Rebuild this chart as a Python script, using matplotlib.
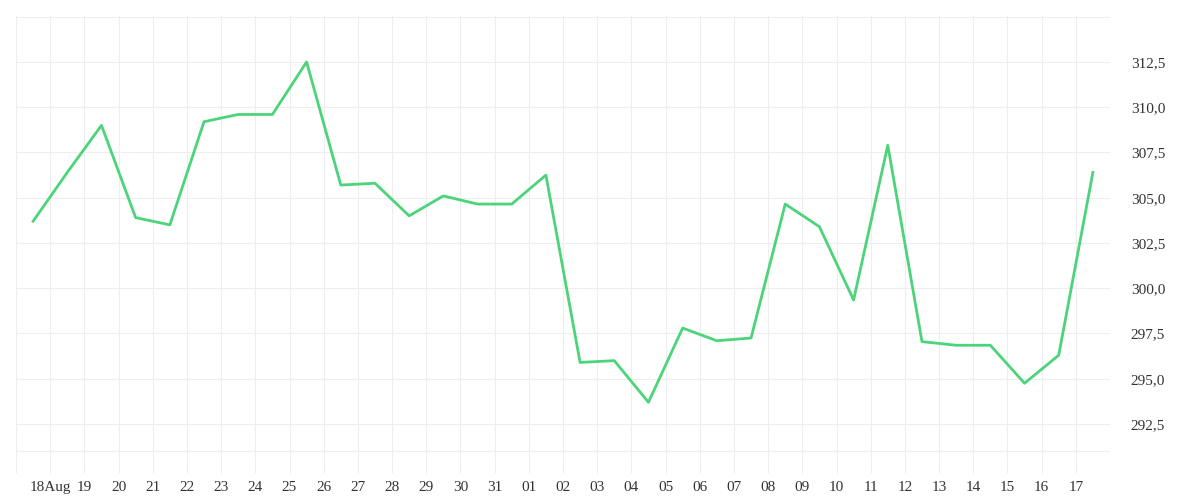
import matplotlib.pyplot as plt

days = ["18Aug", "19", "20", "21", "22", "23", "24", "25", "26", "27", "28", "29", "30", "31",
        "01", "02", "03", "04", "05", "06", "07", "08", "09", "10", "11", "12", "13", "14",
        "15", "16", "17"]
values = [303.7, 306.4, 309.0, 303.9, 303.5, 309.2, 309.6, 309.6, 312.5, 305.7, 305.8, 304.0,
          305.1, 304.65, 304.65, 306.25, 295.9, 296.0, 293.7, 297.8, 297.1, 297.25, 304.65,
          303.4, 299.35, 307.9, 297.05, 296.85, 296.85, 294.75, 296.3, 306.4]

plt.rcParams['font.family'] = ['Liberation Serif', 'DejaVu Serif']
fig = plt.figure(figsize=(12, 5), dpi=100)
ax = fig.add_axes([16 / 1200, 38 / 500, 1094 / 1200, 446 / 500])

xs = [i - 0.5 for i in range(len(values))]
ax.plot(xs, values, color='#4cd47a', linewidth=2)

ax.set_xlim(-1, 31)
ax.set_ylim(290.4, 315.04)
grid_c = '#eeeeee'
ax.set_xticks(range(-1, 31))
ax.set_xticklabels([""] + days)
ax.set_yticks([292.5, 295, 297.5, 300, 302.5, 305, 307.5, 310, 312.5])
ax.set_yticklabels([f"{v:.1f}".replace(".", ",") for v in ax.get_yticks()])
ax.yaxis.tick_right()
ax.tick_params(axis='y', length=0, pad=15, labelsize=11, colors='#333333')
ax.tick_params(axis='x', length=8, color=grid_c, labelsize=11, colors='#333333', pad=6)
ax.tick_params(axis='x', color=grid_c)
ax.grid(True, color=grid_c, linewidth=0.8)
for t in [291.0, 315.0]:
    ax.axhline(t, color=grid_c, linewidth=0.8)
ax.axvline(31, color=grid_c, linewidth=0.8)
for s in ax.spines.values():
    s.set_visible(False)

fig.savefig('out.png')
